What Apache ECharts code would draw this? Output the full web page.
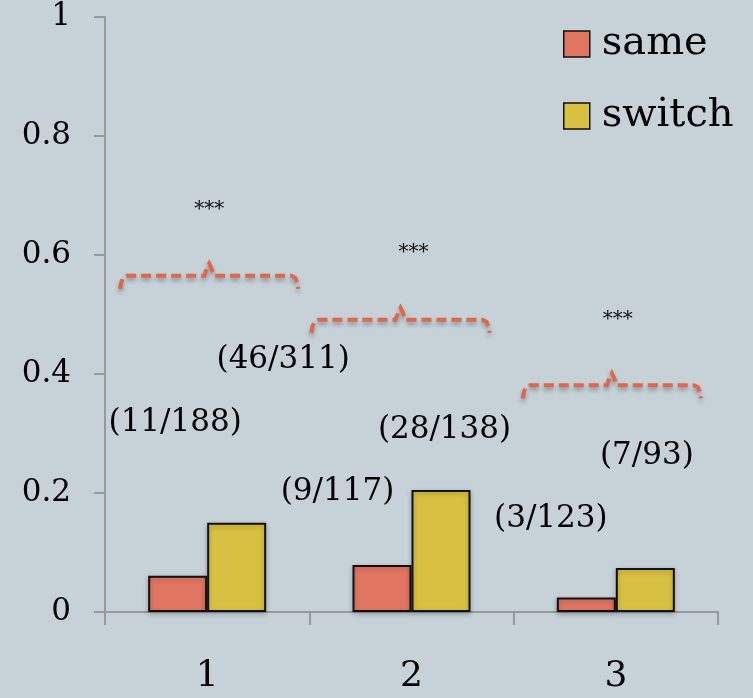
<!DOCTYPE html>
<html><head><meta charset="utf-8">
<script src="https://cdn.jsdelivr.net/npm/echarts@6/dist/echarts.min.js"></script>
<style>html,body{margin:0;padding:0;background:#c6d1d8}#c{width:753px;height:698px}</style>
</head><body><div id="c"></div>
<script>
// ---- data ----
const categories = ['1', '2', '3'];
const sameValues = [0.061, 0.079, 0.0245];
const switchValues = [0.150, 0.205, 0.074];
const yTicks = [0, 0.2, 0.4, 0.6, 0.8, 1];
const countLabels = ['(11/188)', '(46/311)', '(9/117)', '(28/138)', '(3/123)', '(7/93)'];
const countLabelCat = [0, 0, 1, 1, 2, 2];
const countLabelY = [0.318, 0.424, 0.202, 0.306, 0.156, 0.262];
const bracketY = [0.565, 0.491, 0.381];
const starY = [0.68, 0.607, 0.494];
const starText = ['***', '***', '***'];

// ---- layout (not data) ----
const countLabelDx = [-32, 76, -74, 33, -65, 31];
const bracketDx = [2, -11, -4];

const FONT = '"DejaVu Serif", "Liberation Serif", serif';
const chart = echarts.init(document.getElementById('c'));

const option = {
  backgroundColor: '#c6d1d8',
  animation: false,
  grid: { left: 105, right: 35, top: 17, bottom: 86 },
  legend: {
    orient: 'vertical', left: 558, top: 19, itemWidth: 26, itemHeight: 26, itemGap: 32,
    icon: 'rect',
    itemStyle: { borderColor: '#111', borderWidth: 1.5 },
    textStyle: { fontFamily: FONT, fontSize: 40, color: '#000', padding: [0, 0, 0, 7] },
    data: ['same', 'switch']
  },
  xAxis: {
    type: 'category', data: categories,
    axisLine: { lineStyle: { color: '#999', width: 2 } },
    axisTick: { show: true, alignWithLabel: false, length: 13, lineStyle: { color: '#999', width: 2 } },
    axisLabel: { fontFamily: FONT, fontSize: 36, color: '#000', margin: 47 },
    splitLine: { show: false }
  },
  yAxis: {
    type: 'value', min: 0, max: 1, interval: 0.2,
    axisLine: { show: true, lineStyle: { color: '#999', width: 2 } },
    axisTick: { show: true, length: 11, lineStyle: { color: '#999', width: 2 } },
    axisLabel: { fontFamily: FONT, fontSize: 31, color: '#000', margin: 34,
      formatter: v => String(yTicks.find(t => Math.abs(t - v) < 1e-9) ?? v) },
    splitLine: { show: false }
  },
  series: [
    {
      name: 'same', type: 'bar', data: sameValues, barWidth: 59, barGap: '0%',
      itemStyle: { color: '#e07562', borderColor: '#111', borderWidth: 2,
        shadowColor: 'rgba(0,0,0,0.25)', shadowBlur: 5, shadowOffsetY: 2 }
    },
    {
      name: 'switch', type: 'bar', data: switchValues, barWidth: 59, barGap: '0%',
      itemStyle: { color: '#d8c042', borderColor: '#111', borderWidth: 2,
        shadowColor: 'rgba(0,0,0,0.25)', shadowBlur: 5, shadowOffsetY: 2 }
    },
    {
      type: 'custom', name: 'brackets', silent: true, z: 5,
      data: bracketY.map((y, i) => [i, y, starY[i]]),
      renderItem(params, api) {
        const i = api.value(0);
        const c = api.coord([i, api.value(1)]);
        const s = api.coord([i, api.value(2)]);
        const w = api.size([1, 0])[0];
        const hw = w * 0.436;
        const C = c[0] + bracketDx[params.dataIndex];
        const L = C - hw, R = C + hw, y = c[1];
        const pts = [
          [L, y + 13], [L + 1, y + 7], [L + 3, y + 2], [L + 7, y],
          [C - 5, y], [C - 2, y - 8], [C, y - 12], [C + 2, y - 8], [C + 5, y],
          [R - 7, y], [R - 3, y + 2], [R - 1, y + 7], [R, y + 13]
        ];
        return {
          type: 'group',
          children: [
            { type: 'polyline', shape: { points: pts },
              style: { stroke: '#de6948', lineWidth: 4, fill: null, lineDash: [10, 5],
                shadowColor: 'rgba(0,0,0,0.3)', shadowBlur: 4, shadowOffsetY: 3 } },
            { type: 'text', x: s[0] + 2, y: s[1] + 2,
              style: { text: starText[params.dataIndex], fontFamily: FONT, fontSize: 20,
                fill: '#111', align: 'center', verticalAlign: 'middle' } }
          ]
        };
      }
    },
    {
      type: 'custom', name: 'counts', silent: true, z: 6,
      data: countLabelCat.map((c, i) => [c, countLabelY[i]]),
      renderItem(params, api) {
        const p = api.coord([api.value(0), api.value(1)]);
        return {
          type: 'text', x: p[0] + countLabelDx[params.dataIndex], y: p[1],
          style: { text: countLabels[params.dataIndex], fontFamily: FONT, fontSize: 31,
            fill: '#000', align: 'center', verticalAlign: 'middle' }
        };
      }
    }
  ]
};
chart.setOption(option);
</script>
</body></html>
